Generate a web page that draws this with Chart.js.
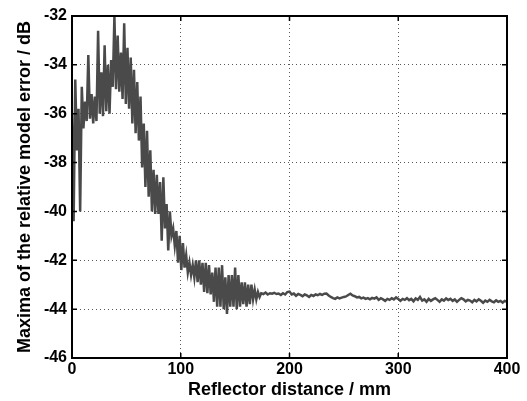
<!DOCTYPE html>
<html>
<head>
<meta charset="utf-8">
<script src="https://cdn.jsdelivr.net/npm/chart.js@4.4.1/dist/chart.umd.min.js"></script>
<style>
  html, body { margin: 0; padding: 0; background: #fff; }
  #chart { display: block; }
</style>
</head>
<body>
<canvas id="chart" width="527" height="401"></canvas>
<script>
// Distance (mm) and error maxima (dB)
const distNear = [0, 1.5, 3, 4.5, 6, 7.5, 9, 10.5, 12, 13.5, 15, 16.5, 18, 19.5, 21, 22.5, 24, 25.5, 27, 28.5,
  30, 31.5, 33, 34.5, 36, 37.5, 39, 40.5, 42, 43.5, 45, 46.5, 48, 49.5, 51, 52.5, 54, 55.5, 57, 58.5,
  60, 61.5, 63, 64.5, 66, 67.5, 69, 70.5, 72, 73.5, 75, 76.5, 78, 79.5, 81, 82.5, 84, 85.5, 87, 88.5,
  90, 91.5, 93, 94.5, 96, 97.5, 99, 100.5, 102, 103.5, 105, 106.5, 108, 109.5, 111, 112.5, 114, 115.5, 117, 118.5,
  120, 121.5, 123, 124.5, 126, 127.5, 129, 130.5, 132, 133.5, 135, 136.5, 138, 139.5, 141, 142.5, 144, 145.5, 147, 148.5,
  150, 151.5, 153, 154.5, 156, 157.5, 159, 160.5, 162, 163.5, 165, 166.5, 168, 169.5, 171, 172.5, 174];
const errNear = [-36.0, -40.4, -34.6, -37.5, -35.8, -40.0, -34.9, -36.6, -35.5, -36.3, -33.6, -36.2, -35.2, -36.4, -35.3, -36.3, -32.6, -36.0, -34.3, -36.1,
  -33.2, -35.9, -34.0, -36.0, -33.8, -34.9, -32.0, -35.0, -32.8, -35.1, -33.5, -35.4, -32.3, -35.6, -33.3, -35.8, -33.7, -36.4, -34.2, -36.8,
  -34.7, -37.1, -35.3, -38.2, -36.4, -39.0, -36.7, -39.4, -37.5, -40.0, -38.3, -40.1, -38.5, -40.1, -38.8, -41.2, -38.6, -40.7, -39.7, -41.6,
  -40.0, -41.0, -40.7, -41.4, -40.8, -42.1, -41.0, -42.4, -41.3, -42.3, -41.8, -42.5, -42.1, -42.6, -42.2, -42.7, -42.0, -42.9, -42.0, -43.0,
  -42.1, -43.3, -42.1, -43.35, -42.2, -43.4, -42.5, -43.7, -42.3, -43.9, -42.3, -43.9, -42.2, -44.0, -42.7, -44.2, -42.6, -43.9, -42.6, -43.9,
  -42.3, -44.0, -42.6, -43.9, -42.9, -43.8, -42.9, -43.9, -43.0, -43.8, -43.0, -43.6, -43.2, -43.6, -43.3, -43.5, -43.35];

const distFar = [176, 178, 180, 182, 184, 186, 188, 190, 192, 194, 196, 198, 200, 202, 204, 206, 208, 210, 212, 214,
  216, 218, 220, 222, 224, 226, 228, 230, 232, 234, 236, 238, 240, 242, 244, 246, 248, 250, 252, 254,
  256, 258, 260, 262, 264, 266, 268, 270, 272, 274, 276, 278, 280, 282, 284, 286, 288, 290, 292, 294,
  296, 298, 300, 302, 304, 306, 308, 310, 312, 314, 316, 318, 320, 322, 324, 326, 328, 330, 332, 334,
  336, 338, 340, 342, 344, 346, 348, 350, 352, 354, 356, 358, 360, 362, 364, 366, 368, 370, 372, 374,
  376, 378, 380, 382, 384, 386, 388, 390, 392, 394, 396, 398, 400];
const errFar = [-43.38, -43.32, -43.40, -43.35, -43.37, -43.33, -43.38, -43.36, -43.42, -43.35, -43.40, -43.30, -43.28, -43.40, -43.36, -43.45, -43.38, -43.42, -43.47, -43.40,
  -43.44, -43.50, -43.42, -43.46, -43.40, -43.43, -43.38, -43.42, -43.37, -43.36, -43.44, -43.50, -43.55, -43.58, -43.52, -43.56, -43.53, -43.50, -43.48, -43.42,
  -43.37, -43.44, -43.47, -43.52, -43.50, -43.56, -43.53, -43.58, -43.55, -43.60, -43.54, -43.57, -43.52, -43.62, -43.55, -43.60, -43.66, -43.58, -43.62, -43.55,
  -43.60, -43.52, -43.58, -43.66, -43.58, -43.62, -43.55, -43.63, -43.58, -43.68, -43.56, -43.62, -43.50, -43.65, -43.60, -43.70, -43.58, -43.66, -43.60, -43.55,
  -43.62, -43.70, -43.60, -43.65, -43.56, -43.63, -43.58, -43.66, -43.60, -43.70, -43.62, -43.55, -43.60, -43.68, -43.62, -43.65, -43.72, -43.62, -43.68, -43.60,
  -43.66, -43.74, -43.65, -43.70, -43.62, -43.68, -43.72, -43.64, -43.70, -43.66, -43.73, -43.66, -43.70];

const xTicks = [0, 100, 200, 300, 400];
const yTicks = [-46, -44, -42, -40, -38, -36, -34, -32];

const points = distNear.concat(distFar).map((d, i) => ({ x: d, y: errNear.concat(errFar)[i] }));

// black frame + inward tick marks, matlab style
const frame = {
  id: 'frame',
  afterDraw(chart) {
    const { ctx, chartArea: a, scales } = chart;
    ctx.save();
    ctx.strokeStyle = '#000';
    ctx.lineWidth = 2;
    ctx.strokeRect(a.left, a.top, a.right - a.left, a.bottom - a.top);
    ctx.lineWidth = 1.5;
    ctx.beginPath();
    xTicks.forEach(v => {
      const px = scales.x.getPixelForValue(v);
      ctx.moveTo(px, a.bottom); ctx.lineTo(px, a.bottom - 5);
      ctx.moveTo(px, a.top); ctx.lineTo(px, a.top + 5);
    });
    yTicks.forEach(v => {
      const py = scales.y.getPixelForValue(v);
      ctx.moveTo(a.left, py); ctx.lineTo(a.left + 5, py);
      ctx.moveTo(a.right, py); ctx.lineTo(a.right - 5, py);
    });
    ctx.stroke();
    ctx.restore();
  }
};

const tickFont = { family: "'Liberation Sans', Arial, sans-serif", size: 16, weight: 'bold' };
const titleFont = { family: "'Liberation Sans', Arial, sans-serif", size: 18, weight: 'bold' };
const gridStyle = { color: 'rgba(0,0,0,0.65)', lineWidth: 1, drawTicks: false };

new Chart(document.getElementById('chart'), {
  type: 'line',
  data: {
    datasets: [{
      data: points,
      borderColor: '#4a4a4a',
      borderWidth: 2.5,
      pointRadius: 0,
      tension: 0,
      fill: false
    }]
  },
  options: {
    responsive: false,
    animation: false,
    layout: { padding: { top: 16, right: 20, left: 14, bottom: 0 } },
    plugins: { legend: { display: false }, tooltip: { enabled: false } },
    scales: {
      x: {
        type: 'linear', min: 0, max: 400,
        afterBuildTicks: s => { s.ticks = xTicks.map(v => ({ value: v })); },
        afterFit: s => { s.height = 43; },
        ticks: { color: '#000', font: tickFont, padding: 2, maxRotation: 0 },
        grid: gridStyle,
        border: { display: false, dash: [1, 3] },
        title: { display: true, text: 'Reflector distance / mm', color: '#000', font: titleFont, padding: { top: 0, bottom: 0 } }
      },
      y: {
        type: 'linear', min: -46, max: -32,
        afterBuildTicks: s => { s.ticks = yTicks.map(v => ({ value: v })); },
        afterFit: s => { s.width = 58; },
        ticks: { color: '#000', font: tickFont, padding: 5 },
        grid: gridStyle,
        border: { display: false, dash: [1, 3] },
        title: { display: true, text: 'Maxima of the relative model error / dB', color: '#000', font: titleFont, padding: { top: 0, bottom: 2 } }
      }
    }
  },
  plugins: [frame]
});
</script>
</body>
</html>
